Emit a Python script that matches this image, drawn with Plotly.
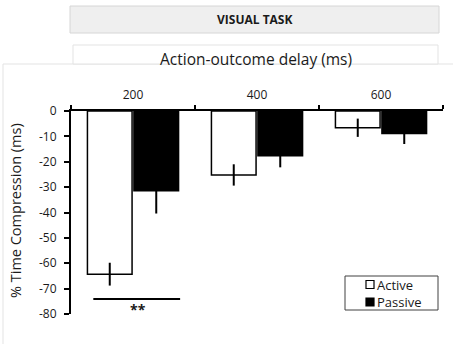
import plotly.graph_objects as go

# Action-outcome delays (categories) and the two conditions
delays = ["200", "400", "600"]
series_names = ["Active", "Passive"]
active_mean = [-64.3, -25.2, -6.6]
active_err = [4.5, 4.2, 3.6]
passive_mean = [-31.4, -17.6, -8.9]
passive_err = [9.0, 4.6, 4.1]
y_ticks = [0, -10, -20, -30, -40, -50, -60, -70, -80]

FONT = "Open Sans"
W, H = 453, 344
L, R, T, B = 71, 10, 111, 30
PW, PH = W - L - R, H - T - B


def px(x):
    return (x - L) / PW


def py(y):
    return (H - B - y) / PH


fig = go.Figure()
fills = ["white", "black"]
means = [active_mean, passive_mean]
errs = [active_err, passive_err]
for name, fill, m, e in zip(series_names, fills, means, errs):
    fig.add_trace(go.Bar(
        x=delays, y=m, name=name,
        marker=dict(color=fill, line=dict(color="black", width=1.5)),
        error_y=dict(type="data", array=e, color="black", thickness=2, width=0),
        showlegend=False,
    ))

shapes = [
    # outer panel
    dict(type="rect", xref="paper", yref="paper", x0=px(3), x1=px(470),
         y0=py(360), y1=py(64), line=dict(color="#e3e3e3", width=1),
         fillcolor="white", layer="below"),
    # header boxes
    dict(type="rect", xref="paper", yref="paper", x0=px(70), x1=px(439),
         y0=py(33), y1=py(6), line=dict(color="#d6d6d6", width=1),
         fillcolor="#efefef", layer="below"),
    dict(type="rect", xref="paper", yref="paper", x0=px(73), x1=px(438),
         y0=py(64), y1=py(45), line=dict(color="#e3e3e3", width=1),
         fillcolor="white", layer="below"),
    # significance bar
    dict(type="line", xref="x", yref="y", x0=-0.32, x1=0.38, y0=-74.1, y1=-74.1,
         line=dict(color="black", width=2)),
    # legend frame
    dict(type="rect", xref="paper", yref="paper", x0=px(345), x1=px(438),
         y0=py(310), y1=py(276), line=dict(color="#404040", width=1),
         fillcolor="white"),
]


def label(text, x, y, size, **kw):
    return dict(text=text, x=x, y=y, showarrow=False, xanchor=kw.pop("xanchor", "center"),
                yanchor="middle", font=dict(family=FONT, size=size, color="#1a1a1a"), **kw)


annotations = [
    label("<b>VISUAL TASK</b>", px(254.5), py(19), 12, xref="paper", yref="paper"),
    label("Action-outcome delay (ms)", px(256), py(59), 15.5, xref="paper", yref="paper"),
    label("% Time Compression (ms)", px(15), py(211), 14.5, xref="paper", yref="paper",
          textangle=-90),
    label("<b>**</b>", 0.04, -78.4, 14, xref="x", yref="y"),
]

# legend entries
for i, (name, fill) in enumerate(zip(series_names, fills)):
    yc = 284.5 + i * 17.5
    shapes.append(dict(type="rect", xref="paper", yref="paper",
                       x0=px(366), x1=px(374), y0=py(yc + 4), y1=py(yc - 4),
                       line=dict(color="black", width=1.2), fillcolor=fill))
    annotations.append(label(name, px(375), py(yc), 13, xref="paper", yref="paper",
                             xanchor="left"))

fig.update_layout(
    width=W, height=H,
    margin=dict(l=L, r=R, t=T, b=B, autoexpand=False),
    paper_bgcolor="white", plot_bgcolor="rgba(0,0,0,0)",
    barmode="group", bargap=0.25, bargroupgap=0.04,
    font=dict(family=FONT, size=12, color="#1a1a1a"),
    shapes=shapes, annotations=annotations,
    xaxis=dict(type="category", side="top", showline=True, linecolor="black",
               linewidth=2, ticks="outside", tickson="boundaries", ticklen=4,
               tickwidth=2, tickcolor="black", showgrid=False, ticklabelstandoff=5,
               tickfont=dict(family=FONT, size=12, color="#1a1a1a")),
    yaxis=dict(range=[-80, 0], tickvals=y_ticks, ticktext=[str(v) for v in y_ticks],
               ticks="outside", ticklen=5, ticklabelstandoff=5,
               tickwidth=2, tickcolor="black", showline=True, linecolor="black",
               linewidth=2, zeroline=False, showgrid=False,
               tickfont=dict(family=FONT, size=12, color="#1a1a1a")),
)

fig.write_html("out.html")
